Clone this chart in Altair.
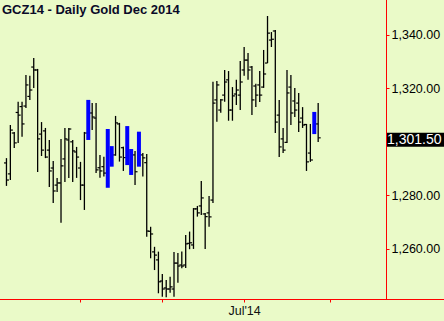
import json
import altair as alt
import pandas as pd

# ---- data ----
highs = [1293.9, 1306.3, 1303.7, 1315.0, 1315.0, 1325.0, 1324.7, 1331.4, 1327.3, 1307.4,
         1305.2, 1300.7, 1292.8, 1286.5, 1301.1, 1305.2, 1305.2, 1300.7, 1298.1, 1292.5,
         1303.7, 1315.7, 1314.5, 1314.5, 1295.1, 1294.4, 1304.8, 1298.4, 1309.7, 1307.1,
         1298.2, 1305.9, 1297.3, 1296.6, 1303.8, 1295.8, 1295.4, 1268.2, 1260.7, 1258.9,
         1250.5, 1248.3, 1249.5, 1258.8, 1258.4, 1258.9, 1265.1, 1266.4, 1275.2, 1276.0,
         1285.3, 1273.4, 1279.7, 1322.5, 1322.8, 1316.0, 1326.9, 1326.5, 1320.5, 1323.2,
         1330.3, 1335.5, 1333.3, 1328.4, 1321.7, 1326.5, 1334.4, 1347.1, 1341.1, 1341.9,
         1315.7, 1305.2, 1326.9, 1325.0, 1320.2, 1318.3, 1313.0, 1306.7, 1306.7, 1311.2,
         1314.5]
lows = [1283.5, 1285.7, 1297.7, 1299.6, 1301.9, 1312.7, 1315.7, 1320.2, 1288.7, 1294.7,
        1293.9, 1283.1, 1277.1, 1281.2, 1269.7, 1285.0, 1286.5, 1285.0, 1286.5, 1278.2,
        1274.5, 1300.7, 1304.4, 1288.3, 1286.6, 1287.0, 1282.8, 1290.7, 1294.8, 1292.6,
        1289.1, 1291.3, 1287.6, 1283.8, 1290.7, 1287.0, 1264.5, 1256.4, 1252.0, 1243.3,
        1242.0, 1241.8, 1243.5, 1242.0, 1247.2, 1252.7, 1252.8, 1259.8, 1259.9, 1272.0,
        1272.6, 1259.9, 1268.2, 1277.1, 1307.5, 1310.9, 1315.0, 1307.9, 1307.9, 1313.8,
        1311.9, 1324.7, 1323.2, 1310.0, 1313.0, 1314.9, 1320.2, 1329.5, 1335.5, 1303.3,
        1294.3, 1295.8, 1299.6, 1306.3, 1309.3, 1303.7, 1305.2, 1289.1, 1292.5, 1302.9,
        1299.9]
opens = [1292.1, 1288.0, 1303.3, 1311.0, 1313.2, 1313.4, 1317.0, 1328.0, 1326.9, 1302.9,
         1304.1, 1296.9, 1290.2, 1283.8, 1284.6, 1293.6, 1300.7, 1300.0, 1296.2, 1290.2,
         1283.8, 1302.0, 1310.8, 1308.9, 1290.3, 1290.7, 1290.0, 1296.0, 1295.1, 1306.7,
         1297.8, 1297.0, 1296.0, 1295.1, 1292.0, 1295.1, 1292.2, 1266.5, 1258.8, 1255.8,
         1247.9, 1245.3, 1244.9, 1244.9, 1254.6, 1253.9, 1253.9, 1262.0, 1261.4, 1274.9,
         1276.0, 1273.0, 1273.4, 1278.2, 1315.7, 1311.9, 1317.5, 1323.2, 1311.9, 1317.9,
         1317.5, 1326.9, 1330.6, 1328.0, 1320.9, 1321.3, 1320.5, 1329.5, 1338.1, 1341.5,
         1310.0, 1301.1, 1299.8, 1320.5, 1315.3, 1314.5, 1308.9, 1306.5, 1295.8, 1304.0,
         1306.7]
closes = [1285.7, 1304.4, 1299.6, 1310.0, 1306.7, 1321.3, 1319.4, 1326.9, 1301.1, 1296.9,
          1294.3, 1289.1, 1281.6, 1284.6, 1291.0, 1301.1, 1304.8, 1296.6, 1294.3, 1283.8,
          1303.3, 1312.0, 1309.3, 1289.5, 1289.1, 1288.3, 1298.0, 1292.0, 1307.1, 1294.3,
          1294.1, 1303.0, 1290.0, 1288.8, 1301.0, 1294.0, 1266.6, 1265.5, 1257.6, 1247.6,
          1244.9, 1244.9, 1245.7, 1254.6, 1253.5, 1253.5, 1261.8, 1262.2, 1274.9, 1273.4,
          1279.0, 1272.0, 1271.9, 1314.5, 1321.3, 1315.7, 1322.4, 1311.9, 1317.2, 1319.4,
          1322.4, 1330.6, 1326.9, 1315.7, 1317.5, 1317.5, 1325.4, 1340.7, 1338.4, 1307.4,
          1298.1, 1296.9, 1318.3, 1310.8, 1311.9, 1307.4, 1306.3, 1292.5, 1293.2, 1308.0,
          1301.5]
highlighted = [21, 26, 27, 31, 32, 34, 79]

month_tick_idx = [19, 40, 61, 83]
month_tick_labels = ["", "", "Jul'14", ""]
price_ticks = [1260, 1280, 1320, 1340]
title_text = "GCZ14 - Daily  Gold Dec 2014"

# ---- build table ----
n = len(closes)
df = pd.DataFrame({
    "i": list(range(n)),
    "open": opens, "high": highs, "low": lows, "close": closes,
    "hl": [k in highlighted for k in range(n)],
})

label_expr = "''"
for v, lab in reversed(list(zip(month_tick_idx, month_tick_labels))):
    label_expr = f"datum.value == {v} ? {json.dumps(lab)} : ({label_expr})"

FONT = "Liberation Sans"
BG = "#EAFAC8"
RED = "#FF0000"

xscale = alt.Scale(domain=[-0.375, 96.125], nice=False, zero=False)
yscale = alt.Scale(domain=[1241.16, 1353.1], nice=False, zero=False)

x_axis = alt.Axis(values=month_tick_idx, labelExpr=label_expr, title=None, grid=False,
                  domain=False, tickColor=RED, tickSize=3, tickWidth=1,
                  labelFont=FONT, labelFontSize=12.5, labelColor="#111111",
                  labelPadding=2, labelFlush=False, labelOverlap=False)
y_axis = alt.Axis(orient="right", values=price_ticks, format=",.2f", title=None, grid=False,
                  domain=False, tickColor=RED, tickSize=3, tickWidth=1,
                  labelFont=FONT, labelFontSize=12.5, labelColor="#000000",
                  labelPadding=2, labelFlush=False, labelOverlap=False)

X = lambda: alt.X("i:Q", scale=xscale, axis=x_axis)
Y = lambda f: alt.Y(f"{f}:Q", scale=yscale, axis=y_axis)

base = alt.Chart(df)
plain = base.transform_filter("!datum.hl")

ranges = plain.mark_rule(color="black", strokeWidth=1.3).encode(
    x=X(), y=Y("low"), y2="high:Q",
)
open_ticks = plain.mark_rule(color="black", strokeWidth=1.2, xOffset=-2.5, x2Offset=0).encode(
    x=X(), x2="i:Q", y=Y("open"),
)
close_ticks = plain.mark_rule(color="black", strokeWidth=1.2, xOffset=0, x2Offset=2.5).encode(
    x=X(), x2="i:Q", y=Y("close"),
)
blue_bars = base.transform_filter("datum.hl").mark_bar(color="#0000FF", size=4).encode(
    x=X(), y=Y("high"), y2="low:Q",
)

last_df = pd.DataFrame({"close": [closes[-1]], "label": [f"{closes[-1]:,.2f}"]})
last_box = alt.Chart(last_df).mark_rect(color="black", yOffset=-5, y2Offset=9).encode(
    x=alt.value(387), x2=alt.value(444),
    y=Y("close"), y2="close:Q",
)
last_text = alt.Chart(last_df).mark_text(align="left", baseline="middle", color="white",
                                         font=FONT, fontSize=14, dy=2).encode(
    x=alt.value(387), y=Y("close"), text="label:N",
)

frame_df = pd.DataFrame({"k": [0]})
bottom_line = alt.Chart(frame_df).mark_rect(color=RED, opacity=1).encode(
    x=alt.value(0), x2=alt.value(444), y=alt.value(299), y2=alt.value(300)
)
right_line = alt.Chart(frame_df).mark_rect(color=RED, opacity=1).encode(
    x=alt.value(386), x2=alt.value(387), y=alt.value(0), y2=alt.value(300)
)
title_df = pd.DataFrame({"t": [title_text]})
title = alt.Chart(title_df).mark_text(align="left", baseline="alphabetic", font=FONT,
                                     fontSize=13, fontWeight="bold", color="#0a0a28").encode(
    x=alt.value(2), y=alt.value(13.5), text="t:N"
)

chart = alt.layer(
    ranges, open_ticks, close_ticks, blue_bars, bottom_line, right_line,
    last_box, last_text, title
).properties(
    width=386, height=299,
    autosize=alt.AutoSizeParams(type="none"),
    padding={"left": 0, "top": 0, "right": 58, "bottom": 22},
    background=BG,
).configure_view(stroke=None, fill=BG)

chart.save("out.html", embed_options={"renderer": "svg", "actions": False})
